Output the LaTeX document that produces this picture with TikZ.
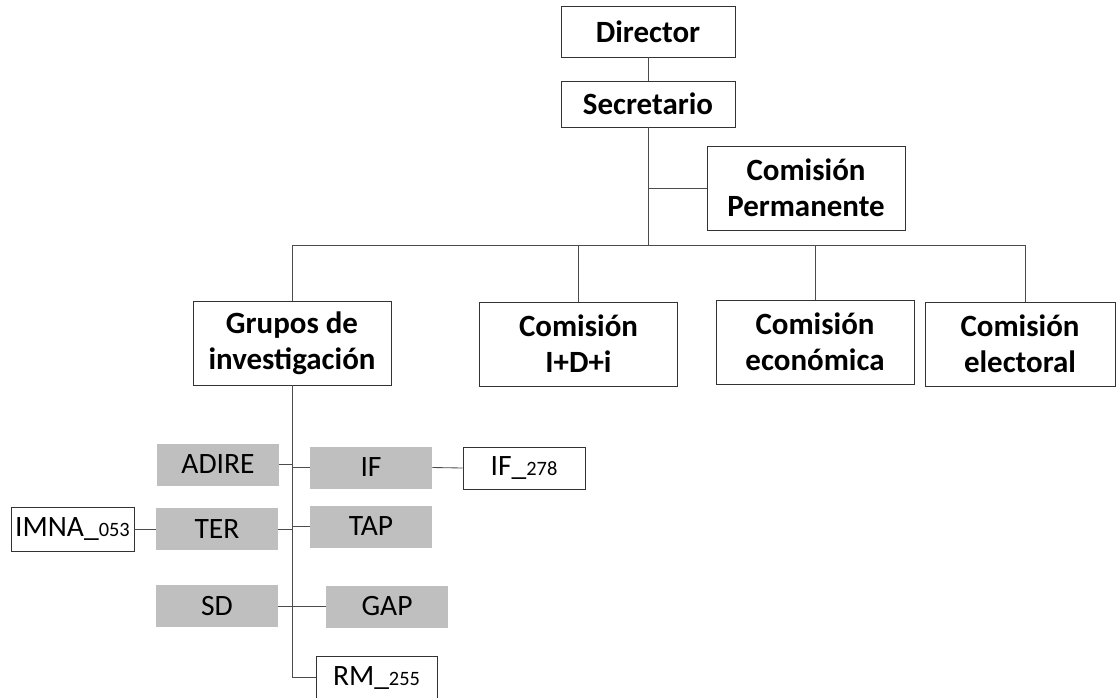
\documentclass[tikz,border=0pt]{standalone}
\usepackage{fontspec}
\setmainfont{Carlito}
\usetikzlibrary{positioning,calc}
\definecolor{teamgray}{RGB}{191,191,191}
\colorlet{linegray}{black!70}
\newcommand{\codenum}[1]{{\fontsize{14.5}{17}\selectfont #1}}

\begin{document}
\begin{tikzpicture}[x=0.025cm, y=-0.025cm,
  box/.style={draw=black!80, line width=0.6pt, fill=white, align=center, inner sep=0pt,
    font=\fontsize{22}{25.5}\selectfont\bfseries, minimum width=4.95cm, minimum height=2.1cm},
  head/.style={box, minimum width=4.35cm},
  team/.style={fill=teamgray, inner sep=0pt, font=\fontsize{21}{25}\selectfont,
    minimum width=3.05cm, minimum height=1.05cm},
  code/.style={team, fill=white, draw=black!80, line width=0.6pt},
  ln/.style={linegray, line width=0.6pt}]
\clip (0,0) rectangle (1116,697);
% top of the chart
\node[head, minimum height=1.275cm] (dir) at (648,31.5) {Director};
\node[head, minimum height=1.15cm] (sec) at (648,104) {Secretario};
\node[box] (perm) at (806,188) {Comisión\\ Permanente};
\coordinate (bus) at (648,245);
\node[box] (grupos) at (292,343) {Grupos de\\ investigación};
\node[box] (idi) at (578.5,344) {Comisión\\ I+D+i};
\node[box] (eco) at (815,342) {Comisión\\ económica};
\node[box, minimum width=4.75cm] (ele) at (1020,344) {Comisión\\ electoral};
\draw[ln] (dir) -- (sec);
\draw[ln] (sec.south) -- (bus);
\draw[ln] (sec.south |- perm.west) -- (perm.west);
\draw[ln] (bus) -| (grupos.north);
\draw[ln] (bus) -| (idi.north);
\draw[ln] (bus) -| (eco.north);
\draw[ln] (bus) -| ([xshift=0.125cm]ele.north);
% research groups
\node[team] (adire) at (218,464.5) {ADIRE};
\node[team] (if) at (371,467.5) {IF};
\node[code] (if278) at (524,468) {IF\_\codenum{278}};
\node[team] (ter) at (217,529) {TER};
\node[code, minimum width=3.075cm, minimum height=1.1cm] (imna) at (72.5,529) {IMNA\_\codenum{053}};
\node[team] (tap) at (371,526.5) {TAP};
\node[team] (sd) at (217,606) {SD};
\node[team] (gap) at (387,606.5) {GAP};
\node[code, minimum width=3.025cm, minimum height=1.075cm] (rm) at (376.5,677.5) {RM\_\codenum{255}};
\draw[ln] (grupos.south) |- (rm.west);
\draw[ln] (adire.east) -- (adire.east -| grupos.south);
\draw[ln] (if.west -| grupos.south) -- (if.west);
\draw[ln] (if.east) -- (if278.west);
\draw[ln] (imna.east) -- (ter.west);
\draw[ln] (ter.east) -- (ter.east -| grupos.south);
\draw[ln] (tap.west -| grupos.south) -- (tap.west);
\draw[ln] (sd.east) -- (sd.east -| grupos.south);
\draw[ln] (gap.west -| grupos.south) -- (gap.west);
\end{tikzpicture}
\end{document}
